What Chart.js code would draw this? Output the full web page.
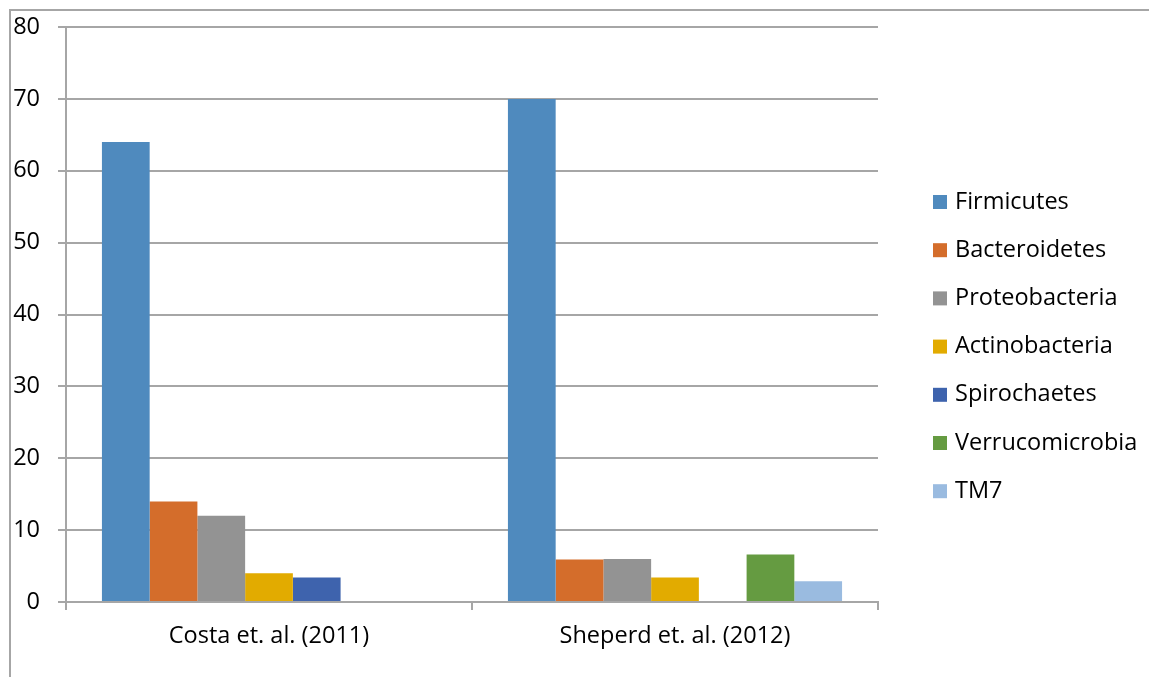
<!DOCTYPE html>
<html lang="en">
<head>
    <meta charset="utf-8" />
    <title>Phyla by study</title>
    <style>
        html, body {
            margin: 0;
            padding: 0;
            background: #fff;
        }
        #wrap {
            position: relative;
            width: 1149px;
            height: 677px;
        }
        #frame {
            position: absolute;
            left: 9px;
            top: 9px;
            right: 0;
            bottom: 0;
            border-left: 2px solid #a6a6a6;
            border-top: 2px solid #a6a6a6;
            pointer-events: none;
        }
    </style>
</head>
<body>
    <div id="wrap">
        <canvas id="phylaChart" width="1149" height="677"></canvas>
        <div id="frame"></div>
    </div>
    <script src="https://cdn.jsdelivr.net/npm/chart.js"></script>
    <script>
        // data (% relative abundance)
        var studies = ['Costa et. al. (2011)', 'Sheperd et. al. (2012)'];
        var phyla = ['Firmicutes', 'Bacteroidetes', 'Proteobacteria', 'Actinobacteria',
                     'Spirochaetes', 'Verrucomicrobia', 'TM7'];
        var firmicutes      = [64, 70];
        var bacteroidetes   = [14, 5.9];
        var proteobacteria  = [12, 6];
        var actinobacteria  = [4, 3.4];
        var spirochaetes    = [3.4, 0];
        var verrucomicrobia = [0, 6.6];
        var tm7             = [0, 2.9];
        var yTicks = [0, 10, 20, 30, 40, 50, 60, 70, 80];

        var seriesValues = [firmicutes, bacteroidetes, proteobacteria, actinobacteria,
                            spirochaetes, verrucomicrobia, tm7];
        var colors = ['#4f8abe', '#d46d2b', '#939393', '#e2ab00', '#3e63ad', '#659b41', '#9abbe0'];

        var FONT = '"Open Sans", "Liberation Sans", sans-serif';
        var FSIZE = 23.5;
        var gridGrey = '#a6a6a6';

        var datasets = phyla.map(function (name, i) {
            return {
                label: name,
                data: seriesValues[i],
                backgroundColor: colors[i],
                borderWidth: 0,
                categoryPercentage: 0.823,
                barPercentage: 1.0
            };
        });

        // legend drawn on the right, one row per phylum
        var sideLegend = {
            id: 'sideLegend',
            afterDraw: function (chart) {
                var ctx = chart.ctx;
                var x0 = chart.chartArea.right + 55;
                var y0 = 202;
                ctx.save();
                ctx.font = FSIZE + 'px ' + FONT;
                ctx.textBaseline = 'middle';
                ctx.textAlign = 'left';
                chart.data.datasets.forEach(function (ds, i) {
                    var y = y0 + i * 48.2;
                    ctx.fillStyle = ds.backgroundColor;
                    ctx.fillRect(x0, y - 7, 14, 14);
                    ctx.fillStyle = '#000';
                    ctx.fillText(ds.label, x0 + 22, y);
                });
                ctx.restore();
            }
        };

        var ctx = document.getElementById('phylaChart').getContext('2d');
        var chart = new Chart(ctx, {
            type: 'bar',
            data: {
                labels: studies,
                datasets: datasets
            },
            options: {
                responsive: false,
                animation: false,
                layout: {
                    padding: { left: 0, top: 27, right: 271, bottom: 0 }
                },
                plugins: {
                    legend: { display: false },
                    tooltip: { enabled: false }
                },
                scales: {
                    x: {
                        grid: {
                            drawOnChartArea: false,
                            drawTicks: true,
                            tickLength: 8,
                            color: gridGrey,
                            lineWidth: 2
                        },
                        border: { display: true, color: gridGrey, width: 2 },
                        ticks: {
                            color: '#000',
                            font: { family: FONT, size: FSIZE },
                            padding: 12
                        },
                        afterFit: function (scale) { scale.height = 75; }
                    },
                    y: {
                        min: 0,
                        max: 80,
                        afterBuildTicks: function (scale) {
                            scale.ticks = yTicks.map(function (v) { return { value: v }; });
                        },
                        grid: {
                            color: gridGrey,
                            lineWidth: 2,
                            drawTicks: true,
                            tickLength: 8
                        },
                        border: { display: true, color: gridGrey, width: 2 },
                        ticks: {
                            color: '#000',
                            font: { family: FONT, size: FSIZE },
                            padding: 18
                        },
                        afterFit: function (scale) {
                            scale.width = 66;
                            // let the layout padding decide where the 80 line sits
                            scale.paddingTop = 0;
                            scale.paddingBottom = 0;
                        }
                    }
                }
            },
            plugins: [sideLegend]
        });
    </script>
</body>
</html>
